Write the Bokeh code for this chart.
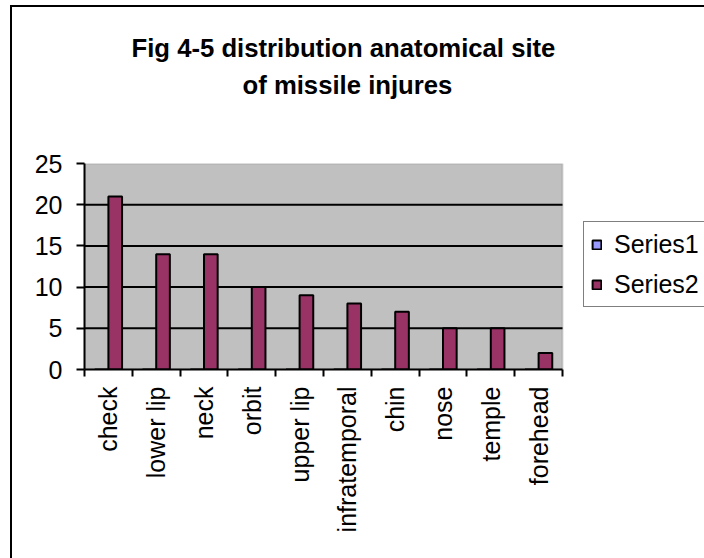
import math
from bokeh.plotting import figure
from bokeh.models import (ColumnDataSource, Range1d, FixedTicker, Legend, LegendItem,
                          Title, LinearAxis, BoxAnnotation)
from bokeh.transform import dodge
from bokeh.embed import file_html
from bokeh.resources import INLINE

# ---- data ----
categories = ["check", "lower lip", "neck", "orbit", "upper lip",
              "infratemporal", "chin", "nose", "temple", "forehead"]
series1 = [0, 0, 0, 0, 0, 0, 0, 0, 0, 0]
series2 = [21, 14, 14, 10, 9, 8, 7, 5, 5, 2]
series_names = ["Series1", "Series2"]
series_colors = ["#9999FF", "#993366"]
y_ticks = [0, 5, 10, 15, 20, 25]
title_line1 = "Fig 4-5 distribution anatomical site"
title_line2 = "of missile injures"

FONT = "Liberation Sans"
FS = "25.7px"
n = len(categories)
centers = [i + 0.5 for i in range(n)]
bar_w = 1 / 3.5  # Excel: 2 series, 150% gap
y_max = y_ticks[-1]

# plot area is 478 px for the categories; the frame continues to the canvas
# edge so that the legend (which sits right of the plot area) is not clipped
PLOT_PX, FRAME_PX = 478, 620

src = ColumnDataSource(dict(x=centers, cat=categories, s1=series1, s2=series2))

p = figure(width=704, height=558, output_backend="svg", toolbar_location=None,
           x_range=Range1d(0, n * FRAME_PX / PLOT_PX), y_range=Range1d(0, y_max),
           min_border_left=84, min_border_right=0,
           min_border_top=163, min_border_bottom=189,
           x_axis_type=None, y_axis_type=None)
p.title = None
p.border_fill_color = None
p.background_fill_color = None
p.outline_line_color = None
p.styles = {
    "background-image": "linear-gradient(#000,#000), linear-gradient(#000,#000)",
    "background-size": "2px 100%, 100% 2px",
    "background-position": "10px 5px, 10px 5px",
    "background-repeat": "no-repeat",
}

# grey plot area over the category extent
p.add_layout(BoxAnnotation(left=0, right=n, bottom=0, top=y_max,
                           fill_color="#C0C0C0", fill_alpha=1,
                           line_color="#808080", line_width=2, level="underlay"))
# horizontal gridlines across the plot area
p.segment(x0=0, x1=n, y0=y_ticks[1:-1], y1=y_ticks[1:-1],
          line_color="black", line_width=2)

r1 = p.vbar(x=dodge("x", -bar_w / 2, range=p.x_range), top="s1", width=bar_w,
            source=src, fill_color=series_colors[0], line_color="black", line_width=2)
r2 = p.vbar(x=dodge("x", bar_w / 2, range=p.x_range), top="s2", width=bar_w,
            source=src, fill_color=series_colors[1], line_color="black", line_width=2)

# y axis
yax = LinearAxis(ticker=FixedTicker(ticks=y_ticks, minor_ticks=[]))
yax.axis_line_color = "black"
yax.axis_line_width = 2
yax.major_tick_line_color = "black"
yax.major_tick_line_width = 2
yax.major_tick_out = 8
yax.major_tick_in = 0
yax.major_label_standoff = 14
yax.major_label_text_font = FONT
yax.major_label_text_font_size = "25px"
yax.major_label_text_color = "black"
p.add_layout(yax, "left")

# x axis: labels at category centres, ticks at category boundaries
xax = LinearAxis(ticker=FixedTicker(ticks=centers, minor_ticks=list(range(n + 1))),
                 bounds=(0, n))
xax.major_label_overrides = {c: cat for c, cat in zip(centers, categories)}
xax.axis_line_color = "black"
xax.axis_line_width = 2
xax.major_tick_out = 0
xax.major_tick_in = 0
xax.major_tick_line_color = None
xax.minor_tick_out = 7
xax.minor_tick_in = 0
xax.minor_tick_line_color = "black"
xax.minor_tick_line_width = 2
xax.major_label_orientation = math.pi / 2
xax.major_label_standoff = 10
xax.major_label_text_font = FONT
xax.major_label_text_font_size = "25px"
xax.major_label_text_color = "black"
p.add_layout(xax, "below")

p.xgrid.grid_line_color = None
p.ygrid.grid_line_color = None

# title (two lines) - first added sits nearest the plot
p.add_layout(Title(text=" ", text_font_size="1px", standoff=58), "above")  # spacer
p.add_layout(Title(text=title_line2, align="left", offset=158, standoff=7,
                   text_font=FONT, text_font_size=FS, text_font_style="bold",
                   text_color="black"), "above")
p.add_layout(Title(text=title_line1, align="left", offset=47, standoff=7,
                   text_font=FONT, text_font_size=FS, text_font_style="bold",
                   text_color="black"), "above")

legend = Legend(items=[LegendItem(label=series_names[0], renderers=[r1]),
                       LegendItem(label=series_names[1], renderers=[r2])],
                location=(499, 62), margin=0, padding=7, spacing=10,
                label_height=30, glyph_height=11, glyph_width=11,
                label_standoff=12, label_text_font=FONT,
                label_text_font_size="25px", label_text_color="black",
                border_line_color="black", border_line_width=1.5,
                background_fill_color="white", background_fill_alpha=1)
p.add_layout(legend)

open("out.html", "w").write(file_html(p, INLINE))
